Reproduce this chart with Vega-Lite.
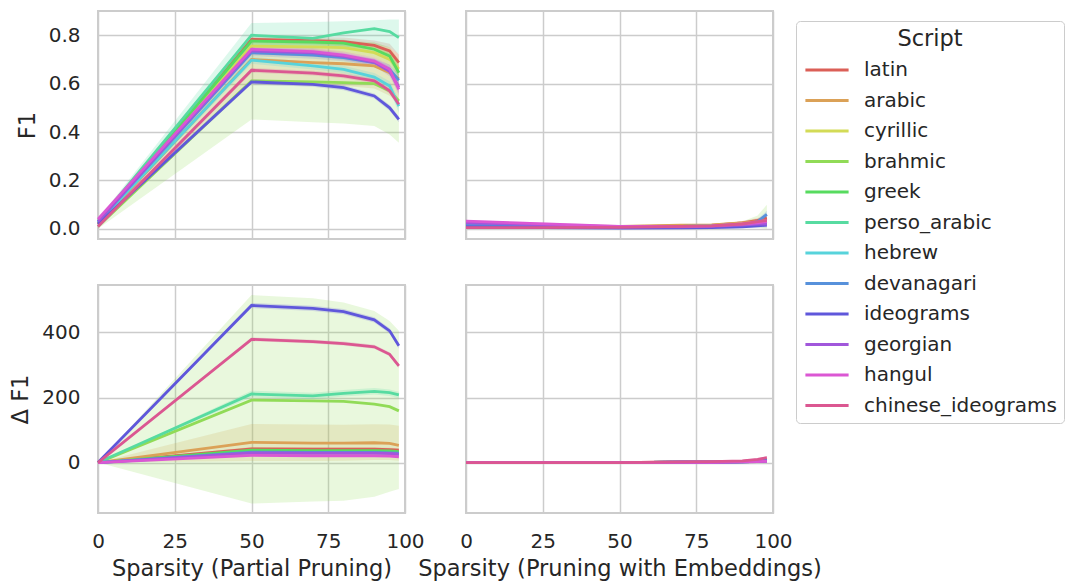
{
"$schema":"https://vega.github.io/schema/vega-lite/v6.json",
"padding":{"left":8,"top":10,"right":0,"bottom":0},
"config":{
 "font":"DejaVu Sans",
 "view":{"stroke":"#cccccc","strokeWidth":2},
 "axis":{"grid":true,"gridColor":"#cccccc","gridWidth":1.5,"domain":false,"ticks":false,"labelFlush":false,"labelFont":"DejaVu Sans","labelFontSize":20,"labelColor":"#262626","titleFont":"DejaVu Sans","titleFontSize":22.5,"titleFontWeight":"normal","titleColor":"#262626","labelPadding":18,"titlePadding":9},
 "legend":{"titleFont":"DejaVu Sans","labelFont":"DejaVu Sans","titleFontSize":22.5,"titleFontWeight":"normal","titleColor":"#262626","labelColor":"#262626","labelFontSize":20,"titleAnchor":"middle","symbolType":"M-2.4,0L2.4,0","symbolSize":324,"symbolStrokeWidth":2.8,"rowPadding":9.5,"titlePadding":9,"strokeColor":"#cccccc","fillColor":"white","cornerRadius":4,"padding":7,"symbolOffset":13.5,"labelOffset":26.5,"labelLimit":400}
},
"data":{"values":[
{"m":"F1","p":"P","s":"latin","x":0,"y":0.02,"lo":0.015,"hi":0.025},
{"m":"F1","p":"P","s":"latin","x":50,"y":0.783,"lo":0.768,"hi":0.798},
{"m":"F1","p":"P","s":"latin","x":70,"y":0.778,"lo":0.763,"hi":0.793},
{"m":"F1","p":"P","s":"latin","x":80,"y":0.773,"lo":0.755,"hi":0.79},
{"m":"F1","p":"P","s":"latin","x":90,"y":0.758,"lo":0.738,"hi":0.778},
{"m":"F1","p":"P","s":"latin","x":95,"y":0.735,"lo":0.705,"hi":0.765},
{"m":"F1","p":"P","s":"latin","x":98,"y":0.687,"lo":0.655,"hi":0.72},
{"m":"F1","p":"P","s":"arabic","x":0,"y":0.02,"lo":0.01,"hi":0.03},
{"m":"F1","p":"P","s":"arabic","x":50,"y":0.70,"lo":0.60,"hi":0.79},
{"m":"F1","p":"P","s":"arabic","x":70,"y":0.687,"lo":0.59,"hi":0.78},
{"m":"F1","p":"P","s":"arabic","x":80,"y":0.682,"lo":0.59,"hi":0.78},
{"m":"F1","p":"P","s":"arabic","x":90,"y":0.673,"lo":0.58,"hi":0.77},
{"m":"F1","p":"P","s":"arabic","x":95,"y":0.645,"lo":0.55,"hi":0.75},
{"m":"F1","p":"P","s":"arabic","x":98,"y":0.62,"lo":0.52,"hi":0.72},
{"m":"F1","p":"P","s":"cyrillic","x":0,"y":0.03,"lo":0.02,"hi":0.04},
{"m":"F1","p":"P","s":"cyrillic","x":50,"y":0.755,"lo":0.735,"hi":0.775},
{"m":"F1","p":"P","s":"cyrillic","x":70,"y":0.752,"lo":0.732,"hi":0.772},
{"m":"F1","p":"P","s":"cyrillic","x":80,"y":0.749,"lo":0.729,"hi":0.769},
{"m":"F1","p":"P","s":"cyrillic","x":90,"y":0.728,"lo":0.708,"hi":0.748},
{"m":"F1","p":"P","s":"cyrillic","x":95,"y":0.70,"lo":0.675,"hi":0.725},
{"m":"F1","p":"P","s":"cyrillic","x":98,"y":0.66,"lo":0.63,"hi":0.69},
{"m":"F1","p":"P","s":"brahmic","x":0,"y":0.01,"lo":0.0,"hi":0.02},
{"m":"F1","p":"P","s":"brahmic","x":50,"y":0.611,"lo":0.452,"hi":0.77},
{"m":"F1","p":"P","s":"brahmic","x":70,"y":0.607,"lo":0.44,"hi":0.77},
{"m":"F1","p":"P","s":"brahmic","x":80,"y":0.604,"lo":0.435,"hi":0.77},
{"m":"F1","p":"P","s":"brahmic","x":90,"y":0.60,"lo":0.425,"hi":0.77},
{"m":"F1","p":"P","s":"brahmic","x":95,"y":0.57,"lo":0.39,"hi":0.75},
{"m":"F1","p":"P","s":"brahmic","x":98,"y":0.528,"lo":0.356,"hi":0.70},
{"m":"F1","p":"P","s":"greek","x":0,"y":0.03,"lo":0.02,"hi":0.04},
{"m":"F1","p":"P","s":"greek","x":50,"y":0.776,"lo":0.761,"hi":0.791},
{"m":"F1","p":"P","s":"greek","x":70,"y":0.772,"lo":0.757,"hi":0.787},
{"m":"F1","p":"P","s":"greek","x":80,"y":0.767,"lo":0.752,"hi":0.782},
{"m":"F1","p":"P","s":"greek","x":90,"y":0.742,"lo":0.727,"hi":0.757},
{"m":"F1","p":"P","s":"greek","x":95,"y":0.714,"lo":0.694,"hi":0.734},
{"m":"F1","p":"P","s":"greek","x":98,"y":0.645,"lo":0.62,"hi":0.67},
{"m":"F1","p":"P","s":"perso_arabic","x":0,"y":0.03,"lo":0.02,"hi":0.04},
{"m":"F1","p":"P","s":"perso_arabic","x":50,"y":0.80,"lo":0.75,"hi":0.85},
{"m":"F1","p":"P","s":"perso_arabic","x":70,"y":0.787,"lo":0.745,"hi":0.855},
{"m":"F1","p":"P","s":"perso_arabic","x":80,"y":0.81,"lo":0.75,"hi":0.858},
{"m":"F1","p":"P","s":"perso_arabic","x":90,"y":0.827,"lo":0.76,"hi":0.862},
{"m":"F1","p":"P","s":"perso_arabic","x":95,"y":0.815,"lo":0.75,"hi":0.865},
{"m":"F1","p":"P","s":"perso_arabic","x":98,"y":0.79,"lo":0.72,"hi":0.865},
{"m":"F1","p":"P","s":"hebrew","x":0,"y":0.025,"lo":0.015,"hi":0.035},
{"m":"F1","p":"P","s":"hebrew","x":50,"y":0.697,"lo":0.682,"hi":0.712},
{"m":"F1","p":"P","s":"hebrew","x":70,"y":0.673,"lo":0.658,"hi":0.688},
{"m":"F1","p":"P","s":"hebrew","x":80,"y":0.659,"lo":0.644,"hi":0.674},
{"m":"F1","p":"P","s":"hebrew","x":90,"y":0.627,"lo":0.61,"hi":0.644},
{"m":"F1","p":"P","s":"hebrew","x":95,"y":0.59,"lo":0.57,"hi":0.61},
{"m":"F1","p":"P","s":"hebrew","x":98,"y":0.507,"lo":0.48,"hi":0.535},
{"m":"F1","p":"P","s":"devanagari","x":0,"y":0.03,"lo":0.02,"hi":0.04},
{"m":"F1","p":"P","s":"devanagari","x":50,"y":0.728,"lo":0.713,"hi":0.743},
{"m":"F1","p":"P","s":"devanagari","x":70,"y":0.718,"lo":0.703,"hi":0.733},
{"m":"F1","p":"P","s":"devanagari","x":80,"y":0.707,"lo":0.692,"hi":0.722},
{"m":"F1","p":"P","s":"devanagari","x":90,"y":0.687,"lo":0.672,"hi":0.702},
{"m":"F1","p":"P","s":"devanagari","x":95,"y":0.659,"lo":0.64,"hi":0.678},
{"m":"F1","p":"P","s":"devanagari","x":98,"y":0.614,"lo":0.59,"hi":0.64},
{"m":"F1","p":"P","s":"ideograms","x":0,"y":0.02,"lo":0.01,"hi":0.03},
{"m":"F1","p":"P","s":"ideograms","x":50,"y":0.607,"lo":0.597,"hi":0.617},
{"m":"F1","p":"P","s":"ideograms","x":70,"y":0.597,"lo":0.587,"hi":0.607},
{"m":"F1","p":"P","s":"ideograms","x":80,"y":0.583,"lo":0.573,"hi":0.593},
{"m":"F1","p":"P","s":"ideograms","x":90,"y":0.549,"lo":0.539,"hi":0.559},
{"m":"F1","p":"P","s":"ideograms","x":95,"y":0.50,"lo":0.488,"hi":0.512},
{"m":"F1","p":"P","s":"ideograms","x":98,"y":0.452,"lo":0.44,"hi":0.464},
{"m":"F1","p":"P","s":"georgian","x":0,"y":0.03,"lo":0.02,"hi":0.04},
{"m":"F1","p":"P","s":"georgian","x":50,"y":0.735,"lo":0.72,"hi":0.75},
{"m":"F1","p":"P","s":"georgian","x":70,"y":0.727,"lo":0.712,"hi":0.742},
{"m":"F1","p":"P","s":"georgian","x":80,"y":0.713,"lo":0.698,"hi":0.728},
{"m":"F1","p":"P","s":"georgian","x":90,"y":0.688,"lo":0.673,"hi":0.703},
{"m":"F1","p":"P","s":"georgian","x":95,"y":0.65,"lo":0.63,"hi":0.67},
{"m":"F1","p":"P","s":"georgian","x":98,"y":0.585,"lo":0.56,"hi":0.61},
{"m":"F1","p":"P","s":"hangul","x":0,"y":0.04,"lo":0.03,"hi":0.05},
{"m":"F1","p":"P","s":"hangul","x":50,"y":0.742,"lo":0.727,"hi":0.757},
{"m":"F1","p":"P","s":"hangul","x":70,"y":0.732,"lo":0.717,"hi":0.747},
{"m":"F1","p":"P","s":"hangul","x":80,"y":0.718,"lo":0.703,"hi":0.733},
{"m":"F1","p":"P","s":"hangul","x":90,"y":0.693,"lo":0.678,"hi":0.708},
{"m":"F1","p":"P","s":"hangul","x":95,"y":0.659,"lo":0.64,"hi":0.678},
{"m":"F1","p":"P","s":"hangul","x":98,"y":0.576,"lo":0.55,"hi":0.6},
{"m":"F1","p":"P","s":"chinese_ideograms","x":0,"y":0.01,"lo":0.0,"hi":0.02},
{"m":"F1","p":"P","s":"chinese_ideograms","x":50,"y":0.655,"lo":0.645,"hi":0.665},
{"m":"F1","p":"P","s":"chinese_ideograms","x":70,"y":0.643,"lo":0.633,"hi":0.653},
{"m":"F1","p":"P","s":"chinese_ideograms","x":80,"y":0.632,"lo":0.622,"hi":0.642},
{"m":"F1","p":"P","s":"chinese_ideograms","x":90,"y":0.611,"lo":0.6,"hi":0.622},
{"m":"F1","p":"P","s":"chinese_ideograms","x":95,"y":0.57,"lo":0.558,"hi":0.582},
{"m":"F1","p":"P","s":"chinese_ideograms","x":98,"y":0.515,"lo":0.5,"hi":0.53},

{"m":"dF1","p":"P","s":"latin","x":0,"y":0,"lo":0,"hi":0},
{"m":"dF1","p":"P","s":"latin","x":50,"y":42,"lo":36,"hi":48},
{"m":"dF1","p":"P","s":"latin","x":70,"y":41,"lo":35,"hi":47},
{"m":"dF1","p":"P","s":"latin","x":80,"y":41,"lo":35,"hi":47},
{"m":"dF1","p":"P","s":"latin","x":90,"y":41,"lo":35,"hi":47},
{"m":"dF1","p":"P","s":"latin","x":95,"y":40,"lo":34,"hi":46},
{"m":"dF1","p":"P","s":"latin","x":98,"y":38,"lo":32,"hi":44},
{"m":"dF1","p":"P","s":"arabic","x":0,"y":0,"lo":0,"hi":0},
{"m":"dF1","p":"P","s":"arabic","x":50,"y":62,"lo":5,"hi":119},
{"m":"dF1","p":"P","s":"arabic","x":70,"y":60,"lo":5,"hi":117},
{"m":"dF1","p":"P","s":"arabic","x":80,"y":60,"lo":6,"hi":116},
{"m":"dF1","p":"P","s":"arabic","x":90,"y":61,"lo":8,"hi":118},
{"m":"dF1","p":"P","s":"arabic","x":95,"y":59,"lo":8,"hi":117},
{"m":"dF1","p":"P","s":"arabic","x":98,"y":53,"lo":6,"hi":113},
{"m":"dF1","p":"P","s":"cyrillic","x":0,"y":0,"lo":0,"hi":0},
{"m":"dF1","p":"P","s":"cyrillic","x":50,"y":35,"lo":30,"hi":40},
{"m":"dF1","p":"P","s":"cyrillic","x":70,"y":34,"lo":29,"hi":39},
{"m":"dF1","p":"P","s":"cyrillic","x":80,"y":34,"lo":29,"hi":39},
{"m":"dF1","p":"P","s":"cyrillic","x":90,"y":34,"lo":29,"hi":39},
{"m":"dF1","p":"P","s":"cyrillic","x":95,"y":33,"lo":28,"hi":38},
{"m":"dF1","p":"P","s":"cyrillic","x":98,"y":31,"lo":26,"hi":36},
{"m":"dF1","p":"P","s":"brahmic","x":0,"y":0,"lo":0,"hi":0},
{"m":"dF1","p":"P","s":"brahmic","x":50,"y":192,"lo":-126,"hi":515},
{"m":"dF1","p":"P","s":"brahmic","x":70,"y":190,"lo":-120,"hi":505},
{"m":"dF1","p":"P","s":"brahmic","x":80,"y":188,"lo":-117,"hi":492},
{"m":"dF1","p":"P","s":"brahmic","x":90,"y":180,"lo":-105,"hi":466},
{"m":"dF1","p":"P","s":"brahmic","x":95,"y":172,"lo":-90,"hi":435},
{"m":"dF1","p":"P","s":"brahmic","x":98,"y":159,"lo":-81,"hi":405},
{"m":"dF1","p":"P","s":"greek","x":0,"y":0,"lo":0,"hi":0},
{"m":"dF1","p":"P","s":"greek","x":50,"y":38,"lo":33,"hi":43},
{"m":"dF1","p":"P","s":"greek","x":70,"y":37,"lo":32,"hi":42},
{"m":"dF1","p":"P","s":"greek","x":80,"y":37,"lo":32,"hi":42},
{"m":"dF1","p":"P","s":"greek","x":90,"y":37,"lo":32,"hi":42},
{"m":"dF1","p":"P","s":"greek","x":95,"y":36,"lo":31,"hi":41},
{"m":"dF1","p":"P","s":"greek","x":98,"y":34,"lo":29,"hi":39},
{"m":"dF1","p":"P","s":"perso_arabic","x":0,"y":0,"lo":0,"hi":0},
{"m":"dF1","p":"P","s":"perso_arabic","x":50,"y":211,"lo":201,"hi":221},
{"m":"dF1","p":"P","s":"perso_arabic","x":70,"y":205,"lo":195,"hi":215},
{"m":"dF1","p":"P","s":"perso_arabic","x":80,"y":213,"lo":203,"hi":223},
{"m":"dF1","p":"P","s":"perso_arabic","x":90,"y":219,"lo":209,"hi":229},
{"m":"dF1","p":"P","s":"perso_arabic","x":95,"y":215,"lo":205,"hi":225},
{"m":"dF1","p":"P","s":"perso_arabic","x":98,"y":208,"lo":198,"hi":218},
{"m":"dF1","p":"P","s":"hebrew","x":0,"y":0,"lo":0,"hi":0},
{"m":"dF1","p":"P","s":"hebrew","x":50,"y":28,"lo":24,"hi":32},
{"m":"dF1","p":"P","s":"hebrew","x":70,"y":27,"lo":23,"hi":31},
{"m":"dF1","p":"P","s":"hebrew","x":80,"y":27,"lo":23,"hi":31},
{"m":"dF1","p":"P","s":"hebrew","x":90,"y":27,"lo":23,"hi":31},
{"m":"dF1","p":"P","s":"hebrew","x":95,"y":26,"lo":22,"hi":30},
{"m":"dF1","p":"P","s":"hebrew","x":98,"y":24,"lo":20,"hi":28},
{"m":"dF1","p":"P","s":"devanagari","x":0,"y":0,"lo":0,"hi":0},
{"m":"dF1","p":"P","s":"devanagari","x":50,"y":32,"lo":28,"hi":36},
{"m":"dF1","p":"P","s":"devanagari","x":70,"y":31,"lo":27,"hi":35},
{"m":"dF1","p":"P","s":"devanagari","x":80,"y":31,"lo":27,"hi":35},
{"m":"dF1","p":"P","s":"devanagari","x":90,"y":31,"lo":27,"hi":35},
{"m":"dF1","p":"P","s":"devanagari","x":95,"y":30,"lo":26,"hi":34},
{"m":"dF1","p":"P","s":"devanagari","x":98,"y":29,"lo":25,"hi":33},
{"m":"dF1","p":"P","s":"ideograms","x":0,"y":0,"lo":0,"hi":0},
{"m":"dF1","p":"P","s":"ideograms","x":50,"y":483,"lo":475,"hi":491},
{"m":"dF1","p":"P","s":"ideograms","x":70,"y":474,"lo":466,"hi":482},
{"m":"dF1","p":"P","s":"ideograms","x":80,"y":464,"lo":456,"hi":472},
{"m":"dF1","p":"P","s":"ideograms","x":90,"y":439,"lo":431,"hi":447},
{"m":"dF1","p":"P","s":"ideograms","x":95,"y":405,"lo":397,"hi":413},
{"m":"dF1","p":"P","s":"ideograms","x":98,"y":359,"lo":351,"hi":367},
{"m":"dF1","p":"P","s":"georgian","x":0,"y":0,"lo":0,"hi":0},
{"m":"dF1","p":"P","s":"georgian","x":50,"y":30,"lo":26,"hi":34},
{"m":"dF1","p":"P","s":"georgian","x":70,"y":29,"lo":25,"hi":33},
{"m":"dF1","p":"P","s":"georgian","x":80,"y":29,"lo":25,"hi":33},
{"m":"dF1","p":"P","s":"georgian","x":90,"y":29,"lo":25,"hi":33},
{"m":"dF1","p":"P","s":"georgian","x":95,"y":28,"lo":24,"hi":32},
{"m":"dF1","p":"P","s":"georgian","x":98,"y":26,"lo":22,"hi":30},
{"m":"dF1","p":"P","s":"hangul","x":0,"y":0,"lo":0,"hi":0},
{"m":"dF1","p":"P","s":"hangul","x":50,"y":22,"lo":19,"hi":25},
{"m":"dF1","p":"P","s":"hangul","x":70,"y":21,"lo":18,"hi":24},
{"m":"dF1","p":"P","s":"hangul","x":80,"y":21,"lo":18,"hi":24},
{"m":"dF1","p":"P","s":"hangul","x":90,"y":21,"lo":18,"hi":24},
{"m":"dF1","p":"P","s":"hangul","x":95,"y":20,"lo":17,"hi":23},
{"m":"dF1","p":"P","s":"hangul","x":98,"y":18,"lo":15,"hi":21},
{"m":"dF1","p":"P","s":"chinese_ideograms","x":0,"y":0,"lo":0,"hi":0},
{"m":"dF1","p":"P","s":"chinese_ideograms","x":50,"y":379,"lo":373,"hi":385},
{"m":"dF1","p":"P","s":"chinese_ideograms","x":70,"y":372,"lo":366,"hi":378},
{"m":"dF1","p":"P","s":"chinese_ideograms","x":80,"y":366,"lo":360,"hi":372},
{"m":"dF1","p":"P","s":"chinese_ideograms","x":90,"y":356,"lo":350,"hi":362},
{"m":"dF1","p":"P","s":"chinese_ideograms","x":95,"y":333,"lo":327,"hi":339},
{"m":"dF1","p":"P","s":"chinese_ideograms","x":98,"y":297,"lo":291,"hi":303},

{"m":"F1","p":"E","s":"latin","x":0,"y":0.015,"lo":0.01,"hi":0.02},
{"m":"F1","p":"E","s":"latin","x":50,"y":0.008,"lo":0.003,"hi":0.013},
{"m":"F1","p":"E","s":"latin","x":70,"y":0.012,"lo":0.007,"hi":0.017},
{"m":"F1","p":"E","s":"latin","x":80,"y":0.014,"lo":0.009,"hi":0.019},
{"m":"F1","p":"E","s":"latin","x":90,"y":0.025,"lo":0.018,"hi":0.032},
{"m":"F1","p":"E","s":"latin","x":95,"y":0.035,"lo":0.025,"hi":0.045},
{"m":"F1","p":"E","s":"latin","x":98,"y":0.045,"lo":0.03,"hi":0.06},
{"m":"F1","p":"E","s":"arabic","x":0,"y":0.015,"lo":0.01,"hi":0.02},
{"m":"F1","p":"E","s":"arabic","x":50,"y":0.01,"lo":0.005,"hi":0.015},
{"m":"F1","p":"E","s":"arabic","x":70,"y":0.015,"lo":0.01,"hi":0.02},
{"m":"F1","p":"E","s":"arabic","x":80,"y":0.016,"lo":0.011,"hi":0.021},
{"m":"F1","p":"E","s":"arabic","x":90,"y":0.025,"lo":0.018,"hi":0.032},
{"m":"F1","p":"E","s":"arabic","x":95,"y":0.03,"lo":0.02,"hi":0.04},
{"m":"F1","p":"E","s":"arabic","x":98,"y":0.035,"lo":0.023,"hi":0.047},
{"m":"F1","p":"E","s":"cyrillic","x":0,"y":0.012,"lo":0.007,"hi":0.017},
{"m":"F1","p":"E","s":"cyrillic","x":50,"y":0.008,"lo":0.003,"hi":0.013},
{"m":"F1","p":"E","s":"cyrillic","x":70,"y":0.01,"lo":0.005,"hi":0.015},
{"m":"F1","p":"E","s":"cyrillic","x":80,"y":0.012,"lo":0.007,"hi":0.017},
{"m":"F1","p":"E","s":"cyrillic","x":90,"y":0.02,"lo":0.014,"hi":0.026},
{"m":"F1","p":"E","s":"cyrillic","x":95,"y":0.025,"lo":0.017,"hi":0.033},
{"m":"F1","p":"E","s":"cyrillic","x":98,"y":0.03,"lo":0.018,"hi":0.042},
{"m":"F1","p":"E","s":"brahmic","x":0,"y":0.01,"lo":0.0,"hi":0.02},
{"m":"F1","p":"E","s":"brahmic","x":50,"y":0.005,"lo":0.0,"hi":0.012},
{"m":"F1","p":"E","s":"brahmic","x":70,"y":0.008,"lo":0.002,"hi":0.015},
{"m":"F1","p":"E","s":"brahmic","x":80,"y":0.01,"lo":0.003,"hi":0.018},
{"m":"F1","p":"E","s":"brahmic","x":90,"y":0.015,"lo":0.005,"hi":0.03},
{"m":"F1","p":"E","s":"brahmic","x":95,"y":0.02,"lo":0.005,"hi":0.055},
{"m":"F1","p":"E","s":"brahmic","x":98,"y":0.025,"lo":0.0,"hi":0.1},
{"m":"F1","p":"E","s":"greek","x":0,"y":0.012,"lo":0.007,"hi":0.017},
{"m":"F1","p":"E","s":"greek","x":50,"y":0.007,"lo":0.002,"hi":0.012},
{"m":"F1","p":"E","s":"greek","x":70,"y":0.01,"lo":0.005,"hi":0.015},
{"m":"F1","p":"E","s":"greek","x":80,"y":0.012,"lo":0.007,"hi":0.017},
{"m":"F1","p":"E","s":"greek","x":90,"y":0.018,"lo":0.012,"hi":0.024},
{"m":"F1","p":"E","s":"greek","x":95,"y":0.025,"lo":0.017,"hi":0.033},
{"m":"F1","p":"E","s":"greek","x":98,"y":0.03,"lo":0.018,"hi":0.042},
{"m":"F1","p":"E","s":"perso_arabic","x":0,"y":0.02,"lo":0.015,"hi":0.025},
{"m":"F1","p":"E","s":"perso_arabic","x":50,"y":0.008,"lo":0.003,"hi":0.013},
{"m":"F1","p":"E","s":"perso_arabic","x":70,"y":0.01,"lo":0.005,"hi":0.015},
{"m":"F1","p":"E","s":"perso_arabic","x":80,"y":0.012,"lo":0.007,"hi":0.017},
{"m":"F1","p":"E","s":"perso_arabic","x":90,"y":0.018,"lo":0.012,"hi":0.024},
{"m":"F1","p":"E","s":"perso_arabic","x":95,"y":0.022,"lo":0.014,"hi":0.03},
{"m":"F1","p":"E","s":"perso_arabic","x":98,"y":0.028,"lo":0.016,"hi":0.04},
{"m":"F1","p":"E","s":"hebrew","x":0,"y":0.015,"lo":0.01,"hi":0.02},
{"m":"F1","p":"E","s":"hebrew","x":50,"y":0.007,"lo":0.002,"hi":0.012},
{"m":"F1","p":"E","s":"hebrew","x":70,"y":0.008,"lo":0.003,"hi":0.013},
{"m":"F1","p":"E","s":"hebrew","x":80,"y":0.01,"lo":0.005,"hi":0.015},
{"m":"F1","p":"E","s":"hebrew","x":90,"y":0.015,"lo":0.009,"hi":0.021},
{"m":"F1","p":"E","s":"hebrew","x":95,"y":0.02,"lo":0.012,"hi":0.028},
{"m":"F1","p":"E","s":"hebrew","x":98,"y":0.03,"lo":0.018,"hi":0.042},
{"m":"F1","p":"E","s":"devanagari","x":0,"y":0.015,"lo":0.01,"hi":0.02},
{"m":"F1","p":"E","s":"devanagari","x":50,"y":0.005,"lo":0.0,"hi":0.01},
{"m":"F1","p":"E","s":"devanagari","x":70,"y":0.006,"lo":0.001,"hi":0.011},
{"m":"F1","p":"E","s":"devanagari","x":80,"y":0.008,"lo":0.003,"hi":0.013},
{"m":"F1","p":"E","s":"devanagari","x":90,"y":0.015,"lo":0.009,"hi":0.021},
{"m":"F1","p":"E","s":"devanagari","x":95,"y":0.03,"lo":0.02,"hi":0.04},
{"m":"F1","p":"E","s":"devanagari","x":98,"y":0.06,"lo":0.045,"hi":0.075},
{"m":"F1","p":"E","s":"ideograms","x":0,"y":0.008,"lo":0.003,"hi":0.013},
{"m":"F1","p":"E","s":"ideograms","x":50,"y":0.003,"lo":0.0,"hi":0.008},
{"m":"F1","p":"E","s":"ideograms","x":70,"y":0.004,"lo":0.0,"hi":0.009},
{"m":"F1","p":"E","s":"ideograms","x":80,"y":0.005,"lo":0.0,"hi":0.01},
{"m":"F1","p":"E","s":"ideograms","x":90,"y":0.008,"lo":0.003,"hi":0.013},
{"m":"F1","p":"E","s":"ideograms","x":95,"y":0.012,"lo":0.005,"hi":0.019},
{"m":"F1","p":"E","s":"ideograms","x":98,"y":0.015,"lo":0.005,"hi":0.025},
{"m":"F1","p":"E","s":"georgian","x":0,"y":0.025,"lo":0.02,"hi":0.03},
{"m":"F1","p":"E","s":"georgian","x":50,"y":0.008,"lo":0.003,"hi":0.013},
{"m":"F1","p":"E","s":"georgian","x":70,"y":0.008,"lo":0.003,"hi":0.013},
{"m":"F1","p":"E","s":"georgian","x":80,"y":0.01,"lo":0.005,"hi":0.015},
{"m":"F1","p":"E","s":"georgian","x":90,"y":0.015,"lo":0.009,"hi":0.021},
{"m":"F1","p":"E","s":"georgian","x":95,"y":0.02,"lo":0.012,"hi":0.028},
{"m":"F1","p":"E","s":"georgian","x":98,"y":0.02,"lo":0.01,"hi":0.03},
{"m":"F1","p":"E","s":"hangul","x":0,"y":0.032,"lo":0.027,"hi":0.037},
{"m":"F1","p":"E","s":"hangul","x":50,"y":0.01,"lo":0.005,"hi":0.015},
{"m":"F1","p":"E","s":"hangul","x":70,"y":0.01,"lo":0.005,"hi":0.015},
{"m":"F1","p":"E","s":"hangul","x":80,"y":0.012,"lo":0.007,"hi":0.017},
{"m":"F1","p":"E","s":"hangul","x":90,"y":0.02,"lo":0.014,"hi":0.026},
{"m":"F1","p":"E","s":"hangul","x":95,"y":0.025,"lo":0.017,"hi":0.033},
{"m":"F1","p":"E","s":"hangul","x":98,"y":0.03,"lo":0.018,"hi":0.042},
{"m":"F1","p":"E","s":"chinese_ideograms","x":0,"y":0.005,"lo":0.0,"hi":0.01},
{"m":"F1","p":"E","s":"chinese_ideograms","x":50,"y":0.006,"lo":0.001,"hi":0.011},
{"m":"F1","p":"E","s":"chinese_ideograms","x":70,"y":0.01,"lo":0.005,"hi":0.015},
{"m":"F1","p":"E","s":"chinese_ideograms","x":80,"y":0.012,"lo":0.007,"hi":0.017},
{"m":"F1","p":"E","s":"chinese_ideograms","x":90,"y":0.02,"lo":0.014,"hi":0.026},
{"m":"F1","p":"E","s":"chinese_ideograms","x":95,"y":0.03,"lo":0.022,"hi":0.038},
{"m":"F1","p":"E","s":"chinese_ideograms","x":98,"y":0.035,"lo":0.023,"hi":0.047},

{"m":"dF1","p":"E","s":"latin","x":0,"y":0,"lo":-1,"hi":1},
{"m":"dF1","p":"E","s":"latin","x":50,"y":0,"lo":-1,"hi":1},
{"m":"dF1","p":"E","s":"latin","x":70,"y":2,"lo":1,"hi":3},
{"m":"dF1","p":"E","s":"latin","x":80,"y":2,"lo":1,"hi":3},
{"m":"dF1","p":"E","s":"latin","x":90,"y":4,"lo":2,"hi":6},
{"m":"dF1","p":"E","s":"latin","x":95,"y":7,"lo":4,"hi":10},
{"m":"dF1","p":"E","s":"latin","x":98,"y":10,"lo":6,"hi":14},
{"m":"dF1","p":"E","s":"arabic","x":0,"y":0,"lo":-1,"hi":1},
{"m":"dF1","p":"E","s":"arabic","x":50,"y":0,"lo":-1,"hi":1},
{"m":"dF1","p":"E","s":"arabic","x":70,"y":1,"lo":0,"hi":2},
{"m":"dF1","p":"E","s":"arabic","x":80,"y":2,"lo":1,"hi":3},
{"m":"dF1","p":"E","s":"arabic","x":90,"y":3,"lo":1,"hi":5},
{"m":"dF1","p":"E","s":"arabic","x":95,"y":6,"lo":3,"hi":9},
{"m":"dF1","p":"E","s":"arabic","x":98,"y":8,"lo":4,"hi":12},
{"m":"dF1","p":"E","s":"cyrillic","x":0,"y":0,"lo":-1,"hi":1},
{"m":"dF1","p":"E","s":"cyrillic","x":50,"y":0,"lo":-1,"hi":1},
{"m":"dF1","p":"E","s":"cyrillic","x":70,"y":1,"lo":0,"hi":2},
{"m":"dF1","p":"E","s":"cyrillic","x":80,"y":1,"lo":0,"hi":2},
{"m":"dF1","p":"E","s":"cyrillic","x":90,"y":3,"lo":1,"hi":5},
{"m":"dF1","p":"E","s":"cyrillic","x":95,"y":5,"lo":2,"hi":8},
{"m":"dF1","p":"E","s":"cyrillic","x":98,"y":7,"lo":3,"hi":11},
{"m":"dF1","p":"E","s":"brahmic","x":0,"y":0,"lo":-1,"hi":1},
{"m":"dF1","p":"E","s":"brahmic","x":50,"y":0,"lo":-1,"hi":1},
{"m":"dF1","p":"E","s":"brahmic","x":70,"y":1,"lo":0,"hi":2},
{"m":"dF1","p":"E","s":"brahmic","x":80,"y":1,"lo":0,"hi":2},
{"m":"dF1","p":"E","s":"brahmic","x":90,"y":2,"lo":0,"hi":5},
{"m":"dF1","p":"E","s":"brahmic","x":95,"y":4,"lo":0,"hi":12},
{"m":"dF1","p":"E","s":"brahmic","x":98,"y":6,"lo":-2,"hi":18},
{"m":"dF1","p":"E","s":"greek","x":0,"y":0,"lo":-1,"hi":1},
{"m":"dF1","p":"E","s":"greek","x":50,"y":0,"lo":-1,"hi":1},
{"m":"dF1","p":"E","s":"greek","x":70,"y":1,"lo":0,"hi":2},
{"m":"dF1","p":"E","s":"greek","x":80,"y":1,"lo":0,"hi":2},
{"m":"dF1","p":"E","s":"greek","x":90,"y":3,"lo":1,"hi":5},
{"m":"dF1","p":"E","s":"greek","x":95,"y":5,"lo":2,"hi":8},
{"m":"dF1","p":"E","s":"greek","x":98,"y":7,"lo":3,"hi":11},
{"m":"dF1","p":"E","s":"perso_arabic","x":0,"y":0,"lo":-1,"hi":1},
{"m":"dF1","p":"E","s":"perso_arabic","x":50,"y":0,"lo":-1,"hi":1},
{"m":"dF1","p":"E","s":"perso_arabic","x":70,"y":1,"lo":0,"hi":2},
{"m":"dF1","p":"E","s":"perso_arabic","x":80,"y":1,"lo":0,"hi":2},
{"m":"dF1","p":"E","s":"perso_arabic","x":90,"y":2,"lo":0,"hi":4},
{"m":"dF1","p":"E","s":"perso_arabic","x":95,"y":4,"lo":1,"hi":7},
{"m":"dF1","p":"E","s":"perso_arabic","x":98,"y":5,"lo":1,"hi":9},
{"m":"dF1","p":"E","s":"hebrew","x":0,"y":0,"lo":-1,"hi":1},
{"m":"dF1","p":"E","s":"hebrew","x":50,"y":0,"lo":-1,"hi":1},
{"m":"dF1","p":"E","s":"hebrew","x":70,"y":1,"lo":0,"hi":2},
{"m":"dF1","p":"E","s":"hebrew","x":80,"y":1,"lo":0,"hi":2},
{"m":"dF1","p":"E","s":"hebrew","x":90,"y":2,"lo":0,"hi":4},
{"m":"dF1","p":"E","s":"hebrew","x":95,"y":4,"lo":1,"hi":7},
{"m":"dF1","p":"E","s":"hebrew","x":98,"y":6,"lo":2,"hi":10},
{"m":"dF1","p":"E","s":"devanagari","x":0,"y":0,"lo":-1,"hi":1},
{"m":"dF1","p":"E","s":"devanagari","x":50,"y":0,"lo":-1,"hi":1},
{"m":"dF1","p":"E","s":"devanagari","x":70,"y":1,"lo":0,"hi":2},
{"m":"dF1","p":"E","s":"devanagari","x":80,"y":1,"lo":0,"hi":2},
{"m":"dF1","p":"E","s":"devanagari","x":90,"y":3,"lo":1,"hi":5},
{"m":"dF1","p":"E","s":"devanagari","x":95,"y":6,"lo":3,"hi":9},
{"m":"dF1","p":"E","s":"devanagari","x":98,"y":9,"lo":5,"hi":13},
{"m":"dF1","p":"E","s":"ideograms","x":0,"y":0,"lo":-1,"hi":1},
{"m":"dF1","p":"E","s":"ideograms","x":50,"y":0,"lo":-1,"hi":1},
{"m":"dF1","p":"E","s":"ideograms","x":70,"y":1,"lo":0,"hi":2},
{"m":"dF1","p":"E","s":"ideograms","x":80,"y":1,"lo":0,"hi":2},
{"m":"dF1","p":"E","s":"ideograms","x":90,"y":2,"lo":0,"hi":4},
{"m":"dF1","p":"E","s":"ideograms","x":95,"y":4,"lo":1,"hi":7},
{"m":"dF1","p":"E","s":"ideograms","x":98,"y":5,"lo":1,"hi":9},
{"m":"dF1","p":"E","s":"georgian","x":0,"y":0,"lo":-1,"hi":1},
{"m":"dF1","p":"E","s":"georgian","x":50,"y":0,"lo":-1,"hi":1},
{"m":"dF1","p":"E","s":"georgian","x":70,"y":1,"lo":0,"hi":2},
{"m":"dF1","p":"E","s":"georgian","x":80,"y":1,"lo":0,"hi":2},
{"m":"dF1","p":"E","s":"georgian","x":90,"y":2,"lo":0,"hi":4},
{"m":"dF1","p":"E","s":"georgian","x":95,"y":3,"lo":1,"hi":5},
{"m":"dF1","p":"E","s":"georgian","x":98,"y":4,"lo":1,"hi":7},
{"m":"dF1","p":"E","s":"hangul","x":0,"y":0,"lo":-1,"hi":1},
{"m":"dF1","p":"E","s":"hangul","x":50,"y":0,"lo":-1,"hi":1},
{"m":"dF1","p":"E","s":"hangul","x":70,"y":1,"lo":0,"hi":2},
{"m":"dF1","p":"E","s":"hangul","x":80,"y":1,"lo":0,"hi":2},
{"m":"dF1","p":"E","s":"hangul","x":90,"y":2,"lo":0,"hi":4},
{"m":"dF1","p":"E","s":"hangul","x":95,"y":3,"lo":1,"hi":5},
{"m":"dF1","p":"E","s":"hangul","x":98,"y":4,"lo":1,"hi":7},
{"m":"dF1","p":"E","s":"chinese_ideograms","x":0,"y":0,"lo":-1,"hi":1},
{"m":"dF1","p":"E","s":"chinese_ideograms","x":50,"y":0,"lo":-1,"hi":1},
{"m":"dF1","p":"E","s":"chinese_ideograms","x":70,"y":2,"lo":1,"hi":3},
{"m":"dF1","p":"E","s":"chinese_ideograms","x":80,"y":3,"lo":1,"hi":5},
{"m":"dF1","p":"E","s":"chinese_ideograms","x":90,"y":5,"lo":2,"hi":8},
{"m":"dF1","p":"E","s":"chinese_ideograms","x":95,"y":10,"lo":6,"hi":14},
{"m":"dF1","p":"E","s":"chinese_ideograms","x":98,"y":15,"lo":10,"hi":20}
]},
"columns":2,
"bounds":"flush",
"spacing":{"row":46,"column":61},
"concat":[
  {"width":307,"height":228,
   "transform":[{"filter":"datum.m=='F1'&&datum.p=='P'"}],
   "layer":[
    {"mark":{"type":"area","opacity":0.2},
     "encoding":{
      "x":{"field":"x","type":"quantitative","scale":{"domain":[0,100],"nice":false,"zero":false},"axis":{"values":[0,25,50,75,100],"labels":false,"title":null}},
      "y":{"field":"lo","type":"quantitative","scale":{"domain":[-0.042,0.9],"nice":false,"zero":false},"axis":{"values":[0,0.2,0.4,0.6,0.8],"format":".1f","title":"F1"}},
      "y2":{"field":"hi"},
      "fill":{"field":"s","type":"nominal","legend":null,"scale":{"domain":["arabic","brahmic","chinese_ideograms","cyrillic","devanagari","georgian","greek","hangul","hebrew","ideograms","latin","perso_arabic"],"range":["#dba157","#91db57","#db5791","#d3db57","#5791db","#a157db","#57db5f","#db57d3","#57d3db","#5f57db","#db5f57","#57dba1"]}}}},
    {"mark":{"type":"line","strokeWidth":2.8},
     "encoding":{
      "x":{"field":"x","type":"quantitative"},
      "y":{"field":"y","type":"quantitative"},
      "color":{"field":"s","type":"nominal","scale":{"domain":["latin","arabic","cyrillic","brahmic","greek","perso_arabic","hebrew","devanagari","ideograms","georgian","hangul","chinese_ideograms"],"range":["#db5f57","#dba157","#d3db57","#91db57","#57db5f","#57dba1","#57d3db","#5791db","#5f57db","#a157db","#db57d3","#db5791"]},"legend":{"title":"Script","orient":"none","legendX":698,"legendY":10}}}}
   ]},
  {"width":307,"height":228,
   "transform":[{"filter":"datum.m=='F1'&&datum.p=='E'"}],
   "layer":[
    {"mark":{"type":"area","opacity":0.2},
     "encoding":{
      "x":{"field":"x","type":"quantitative","scale":{"domain":[0,100],"nice":false,"zero":false},"axis":{"values":[0,25,50,75,100],"labels":false,"title":null}},
      "y":{"field":"lo","type":"quantitative","scale":{"domain":[-0.042,0.9],"nice":false,"zero":false},"axis":{"values":[0,0.2,0.4,0.6,0.8],"labels":false,"title":null}},
      "y2":{"field":"hi"},
      "fill":{"field":"s","type":"nominal","legend":null}}},
    {"mark":{"type":"line","strokeWidth":2.8},
     "encoding":{
      "x":{"field":"x","type":"quantitative"},
      "y":{"field":"y","type":"quantitative"},
      "color":{"field":"s","type":"nominal"}}}
   ]},
  {"width":307,"height":228,
   "transform":[{"filter":"datum.m=='dF1'&&datum.p=='P'"}],
   "layer":[
    {"mark":{"type":"area","opacity":0.2},
     "encoding":{
      "x":{"field":"x","type":"quantitative","scale":{"domain":[0,100],"nice":false,"zero":false},"axis":{"values":[0,25,50,75,100],"title":"Sparsity (Partial Pruning)","titlePadding":6}},
      "y":{"field":"lo","type":"quantitative","scale":{"domain":[-155,546],"nice":false,"zero":false},"axis":{"values":[0,200,400],"title":"Δ F1"}},
      "y2":{"field":"hi"},
      "fill":{"field":"s","type":"nominal","legend":null}}},
    {"mark":{"type":"line","strokeWidth":2.8},
     "encoding":{
      "x":{"field":"x","type":"quantitative"},
      "y":{"field":"y","type":"quantitative"},
      "color":{"field":"s","type":"nominal"}}}
   ]},
  {"width":307,"height":228,
   "transform":[{"filter":"datum.m=='dF1'&&datum.p=='E'"}],
   "layer":[
    {"mark":{"type":"area","opacity":0.2},
     "encoding":{
      "x":{"field":"x","type":"quantitative","scale":{"domain":[0,100],"nice":false,"zero":false},"axis":{"values":[0,25,50,75,100],"title":"Sparsity (Pruning with Embeddings)","titlePadding":6}},
      "y":{"field":"lo","type":"quantitative","scale":{"domain":[-155,546],"nice":false,"zero":false},"axis":{"values":[0,200,400],"labels":false,"title":null}},
      "y2":{"field":"hi"},
      "fill":{"field":"s","type":"nominal","legend":null}}},
    {"mark":{"type":"line","strokeWidth":2.8},
     "encoding":{
      "x":{"field":"x","type":"quantitative"},
      "y":{"field":"y","type":"quantitative"},
      "color":{"field":"s","type":"nominal"}}}
   ]}
],
"resolve":{"scale":{"color":"shared","fill":"shared"}}
}
